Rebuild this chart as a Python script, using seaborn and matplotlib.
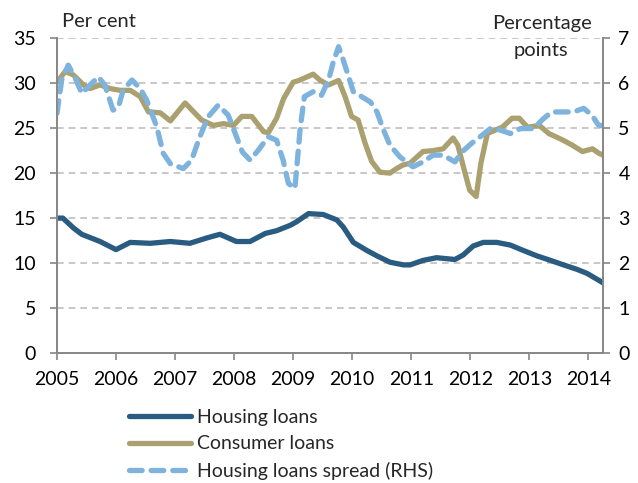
import pandas as pd
import matplotlib.pyplot as plt
import seaborn as sns

# Housing loans (per cent, LHS)
housing_t = [2005.0, 2005.1, 2005.28, 2005.42, 2005.73, 2006.0, 2006.24, 2006.58, 2006.92,
             2007.25, 2007.54, 2007.76, 2008.04, 2008.27, 2008.53, 2008.72, 2008.95, 2009.06,
             2009.26, 2009.51, 2009.74, 2009.85, 2010.02, 2010.25, 2010.42, 2010.64, 2010.87,
             2010.98, 2011.2, 2011.43, 2011.74, 2011.88, 2012.05, 2012.22, 2012.45, 2012.68,
             2012.9, 2013.13, 2013.36, 2013.58, 2013.81, 2013.98, 2014.2, 2014.25]
housing_v = [15.0, 15.0, 13.9, 13.2, 12.4, 11.5, 12.3, 12.2, 12.4,
             12.2, 12.8, 13.2, 12.4, 12.4, 13.3, 13.6, 14.2, 14.6,
             15.5, 15.4, 14.8, 14.0, 12.3, 11.4, 10.8, 10.1, 9.8,
             9.8, 10.3, 10.6, 10.4, 10.9, 11.9, 12.3, 12.3, 12.0,
             11.4, 10.8, 10.3, 9.8, 9.3, 8.85, 8.0, 7.8]

# Consumer loans (per cent, LHS)
consumer_t = [2005.0, 2005.14, 2005.28, 2005.45, 2005.56, 2005.73, 2005.9, 2006.07, 2006.24,
              2006.41, 2006.55, 2006.75, 2006.92, 2007.17, 2007.45, 2007.65, 2007.82, 2007.99,
              2008.13, 2008.3, 2008.5, 2008.58, 2008.72, 2008.84, 2009.0, 2009.1, 2009.34,
              2009.46, 2009.6, 2009.77, 2009.88, 2009.99, 2010.1, 2010.22, 2010.33, 2010.47,
              2010.64, 2010.75, 2010.86, 2010.98, 2011.2, 2011.37, 2011.54, 2011.71, 2011.79,
              2011.9, 2011.99, 2012.1, 2012.18, 2012.29, 2012.43, 2012.54, 2012.71, 2012.83,
              2012.97, 2013.17, 2013.33, 2013.56, 2013.73, 2013.9, 2014.07, 2014.18, 2014.25]
consumer_v = [30.1, 31.3, 30.9, 29.8, 29.4, 29.8, 29.4, 29.2, 29.2,
              28.5, 26.8, 26.7, 25.8, 27.8, 25.9, 25.3, 25.5, 25.3,
              26.3, 26.3, 24.6, 24.5, 26.1, 28.3, 30.1, 30.3, 31.0,
              30.3, 29.8, 30.3, 28.5, 26.3, 25.9, 23.3, 21.3, 20.1,
              20.0, 20.5, 20.9, 21.1, 22.4, 22.5, 22.7, 23.9, 23.1,
              20.3, 18.1, 17.4, 21.1, 24.4, 24.8, 25.1, 26.1, 26.1,
              25.1, 25.3, 24.4, 23.7, 23.1, 22.4, 22.7, 22.2, 22.0]

# Housing loans spread (percentage points, RHS)
spread_t = [2005.0, 2005.08, 2005.19, 2005.3, 2005.42, 2005.56, 2005.7, 2005.81, 2005.95,
            2006.04, 2006.12, 2006.27, 2006.41, 2006.52, 2006.69, 2006.8, 2006.92, 2007.14,
            2007.28, 2007.42, 2007.56, 2007.73, 2007.9, 2008.04, 2008.14, 2008.27, 2008.41,
            2008.58, 2008.72, 2008.83, 2008.92, 2009.03, 2009.12, 2009.19, 2009.34, 2009.48,
            2009.6, 2009.68, 2009.77, 2009.85, 2009.94, 2010.02, 2010.16, 2010.31, 2010.42,
            2010.53, 2010.64, 2010.81, 2011.03, 2011.2, 2011.37, 2011.54, 2011.74, 2011.86,
            2012.02, 2012.17, 2012.34, 2012.5, 2012.68, 2012.85, 2013.07, 2013.24, 2013.38,
            2013.58, 2013.75, 2013.92, 2014.06, 2014.17, 2014.25]
spread_v = [5.33, 6.07, 6.4, 6.14, 5.77, 5.96, 6.14, 5.96, 5.4,
            5.47, 5.84, 6.07, 5.88, 5.62, 5.03, 4.44, 4.21, 4.1,
            4.29, 4.81, 5.25, 5.51, 5.29, 4.81, 4.47, 4.29, 4.51,
            4.81, 4.73, 4.29, 3.77, 3.66, 5.0, 5.7, 5.81, 5.73,
            6.07, 6.47, 6.81, 6.51, 6.14, 5.81, 5.7, 5.58, 5.36,
            4.96, 4.62, 4.36, 4.14, 4.25, 4.4, 4.4, 4.25, 4.47,
            4.66, 4.81, 4.99, 4.96, 4.88, 4.99, 4.99, 5.21, 5.36,
            5.36, 5.36, 5.44, 5.29, 5.07, 5.05]

years = list(range(2005, 2015))
left_ticks = [0, 5, 10, 15, 20, 25, 30, 35]
right_ticks = [0, 1, 2, 3, 4, 5, 6, 7]

c_housing = '#2A5C82'
c_consumer = '#ABA06F'
c_spread = '#7DB3DC'

sns.set_style('white')
plt.rcParams['font.family'] = ['Lato', 'DejaVu Sans']
fs = 14

df_h = pd.DataFrame({'t': housing_t, 'v': housing_v})
df_c = pd.DataFrame({'t': consumer_t, 'v': consumer_v})
df_s = pd.DataFrame({'t': spread_t, 'v': spread_v})

fig = plt.figure(figsize=(6.38, 4.83), dpi=100)
ax = fig.add_axes([0.0893, 0.269, 0.856, 0.652])
ax2 = ax.twinx()

sns.lineplot(data=df_h, x='t', y='v', ax=ax, color=c_housing, lw=3.8,
             label='Housing loans', legend=False, solid_capstyle='round')
sns.lineplot(data=df_c, x='t', y='v', ax=ax, color=c_consumer, lw=3.8,
             label='Consumer loans', legend=False, solid_capstyle='round')
sns.lineplot(data=df_s, x='t', y='v', ax=ax2, color=c_spread, lw=3.8,
             label='Housing loans spread (RHS)', legend=False,
             dashes=False, linestyle=(0, (2.4, 1.7)), dash_capstyle='round')

ax.set_xlim(2005, 2014.25)
ax.set_ylim(0, 35)
ax2.set_ylim(0, 7)
ax.set_xticks(years)
ax.set_xticklabels([str(y) for y in years])
ax.set_yticks(left_ticks)
ax2.set_yticks(right_ticks)
ax.set_xlabel('')
ax.set_ylabel('')
ax2.set_ylabel('')

for y in left_ticks[1:]:
    ax.axhline(y, color='#BFBFBF', lw=1.2, ls=(0, (4, 3)), zorder=0)

for a in (ax, ax2):
    a.spines['top'].set_visible(False)
    for s in ('left', 'right', 'bottom'):
        a.spines[s].set_color('#868686')
        a.spines[s].set_linewidth(1.2)
    a.tick_params(labelsize=fs, colors='black', length=5, width=1.2, color='#868686')
ax.tick_params(axis='x', direction='out', bottom=True, pad=8)
ax.tick_params(axis='y', left=True, direction='out', pad=10)
ax2.tick_params(axis='y', right=True, direction='out', pad=6)

fig.text(0.097, 0.955, 'Per cent', fontsize=fs + 0.5, va='center', ha='left')
fig.text(0.928, 0.952, 'Percentage', fontsize=fs + 0.5, va='center', ha='right')
fig.text(0.891, 0.895, 'points', fontsize=fs + 0.5, va='center', ha='right')

handles = ax.get_lines()[:2] + ax2.get_lines()[:1]
fig.legend(handles, ['Housing loans', 'Consumer loans', 'Housing loans spread (RHS)'],
           loc='upper left', bbox_to_anchor=(0.19, 0.17), frameon=False,
           fontsize=fs, handlelength=3.2, handletextpad=0.3, labelspacing=0.5,
           borderaxespad=0)

fig.savefig('out.png', dpi=100)
